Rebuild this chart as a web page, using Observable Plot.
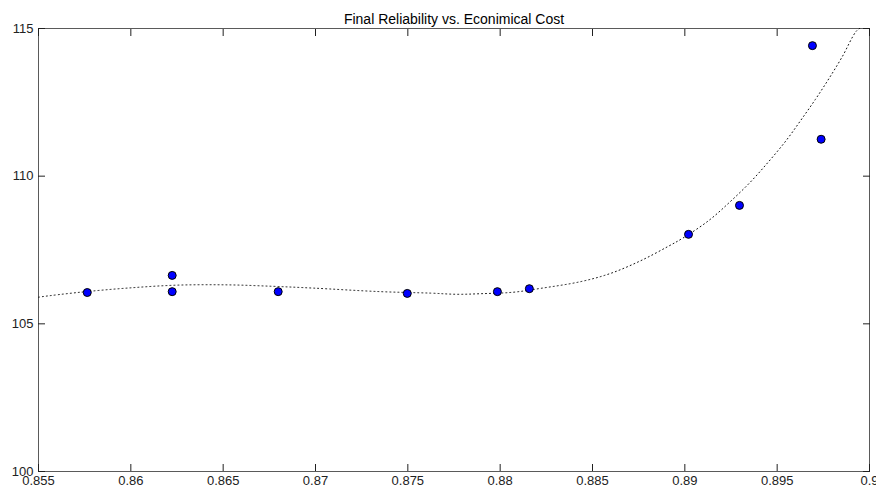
<!DOCTYPE html>
<html>
<head>
<meta charset="utf-8">
<script src="https://cdn.jsdelivr.net/npm/d3@7"></script>
<script src="https://cdn.jsdelivr.net/npm/@observablehq/plot@0.6"></script>
<style>
  html, body { margin: 0; padding: 0; background: #fff; }
</style>
</head>
<body>
<div id="chart"></div>
<script>
const title = "Final Reliability vs. Econimical Cost";

// Scatter points: x = reliability, y = cost
const pointX = [0.85764, 0.86224, 0.86224, 0.86798, 0.87497, 0.87985, 0.88158, 0.89020, 0.89296, 0.89691, 0.89738];
const pointY = [106.06, 106.64, 106.09, 106.09, 106.03, 106.09, 106.19, 108.03, 109.01, 114.42, 111.25];

// Fitted curve
const fitX = [0.85500, 0.85520, 0.85726, 0.85980, 0.86251, 0.86522, 0.86771, 0.86988, 0.87351, 0.87622, 0.87768, 0.87893, 0.88071, 0.88218, 0.88437, 0.88599, 0.88762, 0.88909, 0.88991, 0.89130, 0.89243, 0.89355, 0.89455, 0.89549, 0.89630, 0.89707, 0.89780, 0.89852, 0.89930, 0.89960];
const fitY = [105.90, 105.92, 106.07, 106.21, 106.31, 106.32, 106.27, 106.21, 106.09, 106.04, 106.00, 106.02, 106.07, 106.20, 106.43, 106.71, 107.14, 107.62, 107.91, 108.50, 109.12, 109.80, 110.50, 111.21, 111.91, 112.60, 113.30, 114.04, 114.92, 115.05];

const xTicks = [0.855, 0.86, 0.865, 0.87, 0.875, 0.88, 0.885, 0.89, 0.895, 0.9];
const xTickLabels = ["0.855", "0.86", "0.865", "0.87", "0.875", "0.88", "0.885", "0.89", "0.895", "0.9"];
const yTicks = [100, 105, 110, 115];
const yTickLabels = ["100", "105", "110", "115"];

const points = pointX.map((x, i) => ({x, y: pointY[i]}));
const fit = fitX.map((x, i) => ({x, y: fitY[i]}));

const tickColor = "#202020";

const chart = Plot.plot({
  width: 876,
  height: 494,
  marginLeft: 38,
  marginRight: 7,
  marginTop: 28,
  marginBottom: 23,
  style: {
    background: "#fff",
    fontFamily: "Liberation Sans, Arial, Helvetica, sans-serif",
    fontSize: "13px",
    color: "#000"
  },
  x: {domain: [0.855, 0.9]},
  y: {domain: [100, 115]},
  marks: [
    Plot.frame({stroke: "#5a5a5a", strokeWidth: 1}),
    Plot.axisX(xTicks, {anchor: "bottom", tickSize: -7, tickPadding: 11, stroke: tickColor, fill: "#222", fontSize: 13, label: null,
      tickFormat: d => xTickLabels[xTicks.indexOf(d)]}),
    Plot.axisX(xTicks, {anchor: "top", tickSize: -7, stroke: tickColor, tickFormat: () => "", label: null}),
    Plot.axisY(yTicks, {anchor: "left", tickSize: -7, tickPadding: 12, stroke: tickColor, fill: "#222", fontSize: 13, label: null,
      tickFormat: d => yTickLabels[yTicks.indexOf(d)]}),
    Plot.axisY(yTicks, {anchor: "right", tickSize: -7, stroke: tickColor, tickFormat: () => "", label: null}),
    Plot.line(fit, {x: "x", y: "y", curve: "catmull-rom", stroke: "#111", strokeWidth: 1, strokeDasharray: "1,3", clip: true}),
    Plot.dot(points, {x: "x", y: "y", r: 4, fill: "#0000ff", stroke: "#000", strokeWidth: 1}),
    Plot.text([title], {frameAnchor: "top", dy: -14, fontSize: 14, fill: "#000"})
  ]
});

document.getElementById("chart").appendChild(chart);
</script>
</body>
</html>
